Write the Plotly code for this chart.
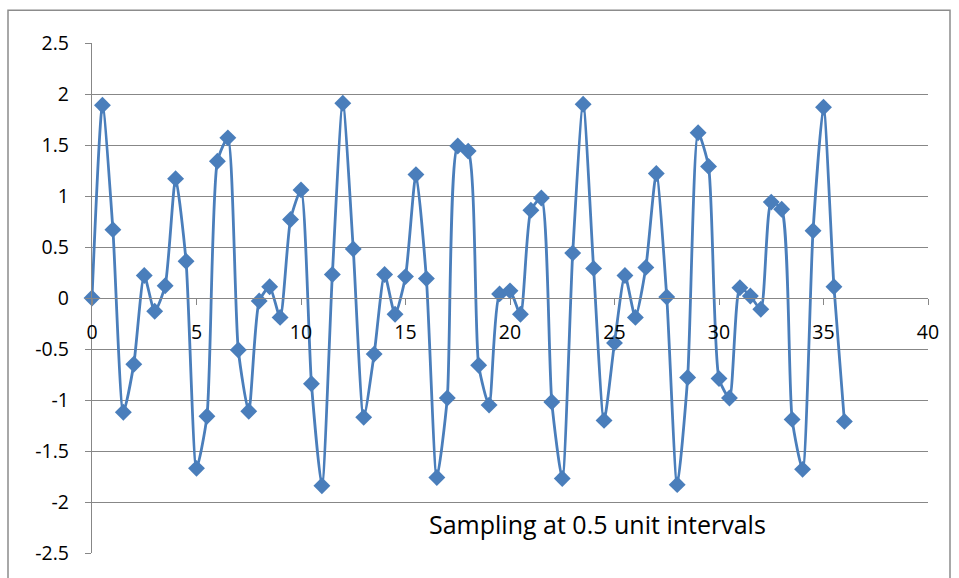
import plotly.graph_objects as go

x_values = [i * 0.5 for i in range(73)]
y_values = [0.00, 1.89, 0.67, -1.12, -0.65, 0.22, -0.13, 0.12, 1.17, 0.36,
            -1.67, -1.16, 1.34, 1.57, -0.51, -1.11, -0.03, 0.11, -0.19, 0.77,
            1.06, -0.84, -1.84, 0.23, 1.91, 0.48, -1.17, -0.55, 0.23, -0.16,
            0.21, 1.21, 0.19, -1.76, -0.98, 1.49, 1.44, -0.66, -1.05, 0.04,
            0.07, -0.16, 0.86, 0.98, -1.02, -1.77, 0.44, 1.90, 0.29, -1.20,
            -0.44, 0.22, -0.19, 0.30, 1.22, 0.01, -1.83, -0.78, 1.62, 1.29,
            -0.79, -0.98, 0.10, 0.02, -0.11, 0.94, 0.87, -1.19, -1.68, 0.66,
            1.87, 0.11, -1.21]
x_ticks = [0, 5, 10, 15, 20, 25, 30, 35, 40]
y_ticks = [2.5, 2, 1.5, 1, 0.5, 0, -0.5, -1, -1.5, -2, -2.5]
note_text = "Sampling at 0.5 unit intervals"

color = "#4A7EBB"
grid = "#878787"
font = "Open Sans, Lato, sans-serif"

fig = go.Figure()
fig.add_trace(go.Scatter(
    x=x_values, y=y_values, mode="lines+markers",
    line=dict(color=color, width=2.8, shape="spline", smoothing=0.6),
    marker=dict(symbol="diamond", size=13, color=color),
    showlegend=False, cliponaxis=False,
))

fig.update_layout(
    width=959, height=578,
    margin=dict(l=92, r=31, t=43, b=22),
    paper_bgcolor="white", plot_bgcolor="white",
    font=dict(family=font, size=19, color="black"),
    xaxis=dict(
        range=[0, 40], tickvals=x_ticks, ticktext=[str(v) for v in x_ticks],
        anchor="free", position=0.5, showgrid=False, zeroline=False,
        showline=True, linecolor=grid, linewidth=1.3,
        ticks="outside", ticklen=6, tickcolor=grid, tickwidth=1.3,
        tickfont=dict(family=font, size=19.5), ticklabelstandoff=10,
        fixedrange=True,
    ),
    yaxis=dict(
        range=[-2.5, 2.5], tickvals=y_ticks, ticktext=[str(v) for v in y_ticks],
        showgrid=True, gridcolor=grid, gridwidth=1.3, zeroline=False,
        showline=True, linecolor=grid, linewidth=1.3,
        ticks="outside", ticklen=6, tickcolor=grid, tickwidth=1.3,
        tickfont=dict(family=font, size=19.5), ticklabelstandoff=12,
    ),
    annotations=[dict(
        x=24.2, y=-2.22, xref="x", yref="y", text=note_text, showarrow=False,
        font=dict(family=font, size=25, color="black"),
    )],
    shapes=[dict(
        type="rect", xref="paper", yref="paper",
        x0=(8 - 92) / 836, x1=(950 - 92) / 836,
        y0=(578 - 22 - 600) / 513, y1=(578 - 22 - 10) / 513,
        line=dict(color="#8C8C8C", width=1.5), fillcolor="rgba(0,0,0,0)",
        layer="below",
    )],
)

fig.write_html("out.html")
